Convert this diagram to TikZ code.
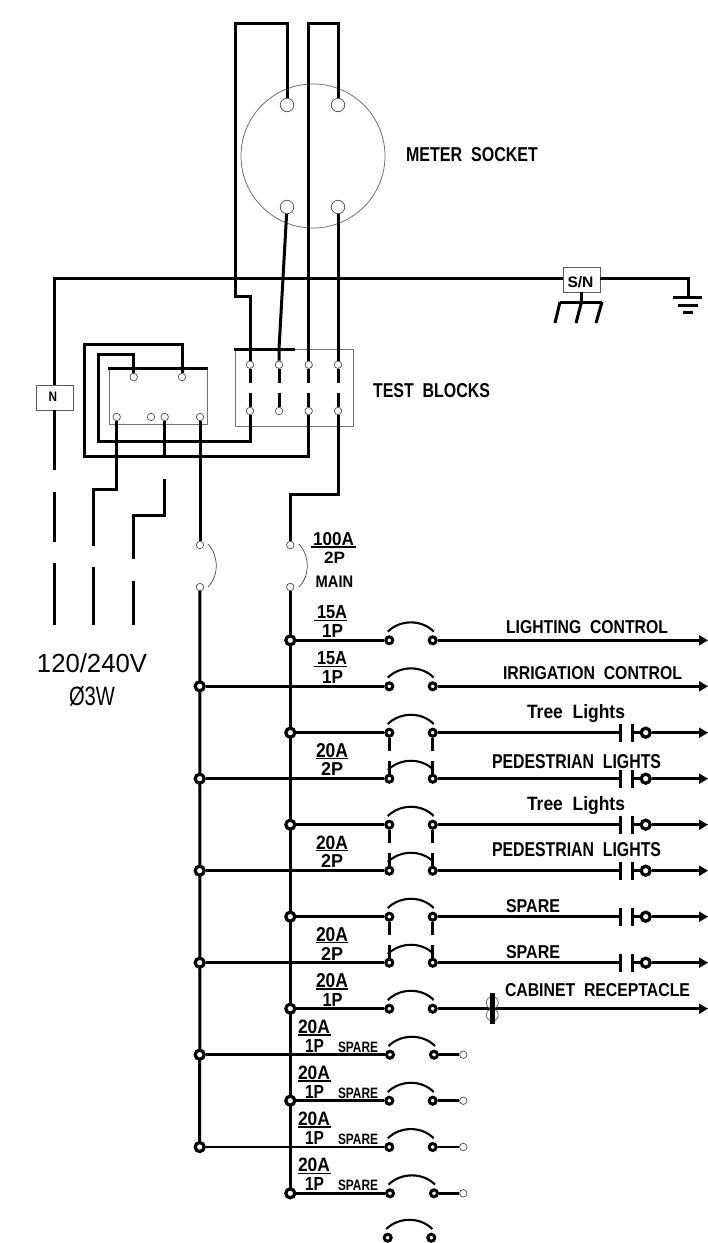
\documentclass[tikz,border=0pt]{standalone}
\usepackage{fontspec}
\setmainfont{Liberation Sans}
\usetikzlibrary{arrows.meta}
\newcommand{\lab}[6]{\node[anchor=base west,inner sep=0pt,outer sep=0pt] (#1) at (#2,#3) {\resizebox{#4pt}{#5pt}{\bfseries #6}};}
\tikzset{
  wire/.style={line width=3pt,line join=miter,line cap=butt,color=black},
  rowwire/.style={line width=2.5pt,line cap=butt,color=black},
  thin box/.style={draw=black!55,line width=0.8pt},
  socketpin/.style={circle,draw=black!70,line width=0.7pt,fill=white,minimum size=13.5pt,inner sep=0pt},
  smallpin/.style={circle,draw=black!70,line width=0.7pt,fill=white,minimum size=7.5pt,inner sep=0pt},
  junc/.style={circle,draw=black,line width=3.2pt,fill=white,minimum size=9pt,inner sep=0pt},
  brk/.style={circle,draw=black,line width=3pt,fill=white,minimum size=7pt,inner sep=0pt},
  trip/.style={line width=2.1pt,color=black},
  labbox/.style={draw=black!65,line width=0.7pt,fill=white,inner sep=0pt},
  ul/.style={line width=1.5pt,color=black},
  thinarc/.style={line width=0.7pt,color=black!70},
  arrowwire/.style={rowwire,-{Triangle[length=9pt,width=10pt]}}
}
\begin{document}
\begin{tikzpicture}[x=1pt,y=-1pt]
\useasboundingbox[fill=white] (0,0) rectangle (708,1243);
% meter socket
\node[circle,thin box,minimum size=144pt,inner sep=0pt] (socket) at (313,156) {};
\node[socketpin] (s1) at (287,105) {};
\node[socketpin] (s2) at (338,105) {};
\node[socketpin] (s3) at (287,207) {};
\node[socketpin] (s4) at (338,207) {};
% test block
\node[thin box,minimum width=117.3pt,minimum height=77pt,inner sep=0pt] (testblk) at (294.4,387.5) {};
\draw[wire] (234,349) -- (295,349);
\foreach \n/\x in {1/250,2/279,3/308.7,4/338}{
  \node[smallpin] (tt\n) at (\x,364.7) {};
  \node[smallpin] (tb\n) at (\x,411) {};
  \coordinate (da\n) at (\x,382.7);
  \coordinate (db\n) at (\x,392.7);
  \draw[wire] (tt\n) -- (da\n);
  \draw[wire] (db\n) -- (tb\n);
}
% left block
\node[thin box,minimum width=98pt,minimum height=56pt,inner sep=0pt] (leftblk) at (158,396) {};
\draw[wire] (108,368.3) -- (208,368.3);
\node[smallpin] (lt1) at (133.7,377) {};
\node[smallpin] (lt2) at (182,377) {};
\node[smallpin] (lb1) at (116.7,417) {};
\node[smallpin] (lb2) at (151,417) {};
\node[smallpin] (lb3) at (164.7,417) {};
\node[smallpin] (lb4) at (200,417) {};
% service wires
\draw[wire] (s1) -- (287,23) -- (235,23) -- (235,296) -- (250,296) -- (tt1);
\draw[wire] (s2) -- (338,23.5) -- (308.7,23.5) -- (tt3);
\draw[wire] (s3) -- (279,349) -- (tt2);
\draw[wire] (s4) -- (tt4);
% neutral
\node[labbox,minimum width=37pt,minimum height=25pt] (nbox) at (54.7,397.5) {};
\node[labbox,minimum width=37pt,minimum height=25pt] (snbox) at (581.5,279.5) {};
\coordinate (gnd) at (688,297);
\coordinate (snl) at (563,278);
\coordinate (snr) at (600,278);
\draw[wire] (nbox) -- (54.7,278) -- (snl);
\draw[wire] (snr) -- (688,278) -- (gnd);
\draw[wire] (673,297.5) -- (702,297.5);
\draw[wire] (678,305) -- (698,305);
\draw[wire] (683,312) -- (693,312);
\coordinate (rod) at (581.5,302);
\draw[wire] (snbox) -- (rod);
\draw[wire] (560,302) -- (602,302);
\draw[wire] (560,302) -- (555,323);
\draw[wire] (rod) -- (576,323);
\draw[wire] (602,302) -- (596,323);
% left-block connections
\draw[wire] (lt2) -- (182,344) -- (84,344) -- (84,456.7) -- (308.7,456.7) -- (tb3);
\draw[wire] (lt1) -- (133.7,354) -- (98.7,354) -- (98.7,441) -- (250,441) -- (tb1);
\coordinate (j3w) at (164.7,456.7);
\draw[wire] (lb3) -- (j3w);
% feeders
\coordinate (n1) at (54.7,470);
\draw[wire] (nbox) -- (n1);
\draw[wire] (54.7,492) -- (54.7,542);
\draw[wire] (54.7,563) -- (54.7,625);
\draw[wire] (lb1) -- (116.7,489) -- (93,489) -- (93,546);
\draw[wire] (93,567) -- (93,625);
\draw[wire] (164.7,479) -- (164.7,515.7) -- (133,515.7) -- (133,558.7);
\draw[wire] (133,580.7) -- (133,625);
% main breaker
\node[smallpin] (mA1) at (200,545) {};
\node[smallpin] (mA2) at (200,587) {};
\node[smallpin] (mB1) at (290.3,545) {};
\node[smallpin] (mB2) at (290.3,587) {};
\draw[wire] (lb4) -- (mA1);
\draw[wire] (tb4) -- (338,494) -- (290.3,494) -- (mB1);
\draw[thinarc] (208,544) .. controls (219,556) and (219,576) .. (208,587);
\draw[thinarc] (299,544) .. controls (310,556) and (310,576) .. (299,587);
% buses
\coordinate (busAend) at (199.7,1147);
\coordinate (busBend) at (290.3,1193.3);
\draw[wire] (mA2) -- (busAend);
\draw[wire] (mB2) -- (busBend);
% rows
\foreach \n/\y/\bx/\lx/\rx in {1/640.3/290.3/389.3/432.7,2/686.3/199.7/389.3/432.7,3/732.7/290.3/389.3/432.7,4/778.7/199.7/389.3/432.7,5/824.7/290.3/389.3/432.7,6/870.7/199.7/389.3/432.7,7/916.7/290.3/389.3/432.7,8/962.7/199.7/389.3/432.7,9/1008.7/290.3/389.3/432.7,10/1054.7/199.7/390/434,11/1100.7/290.3/389.3/432.7,12/1147/199.7/389.3/432.7,13/1193.3/290.3/390/434}{
  \node[junc] (j\n) at (\bx,\y) {};
  \node[brk] (l\n) at (\lx,\y) {};
  \node[brk] (r\n) at (\rx,\y) {};
  \draw[rowwire] (j\n) -- (l\n);
  \draw[trip] (\lx-1.5,\y-8.7) .. controls (\lx+11,\y-21) and (\rx-11,\y-21) .. (\rx+1,\y-8.7);
}
% last unconnected breaker
\node[brk] (l14) at (387.7,1237.7) {};
\node[brk] (r14) at (431.3,1237.7) {};
\draw[trip] (386.2,1229) .. controls (399,1216.7) and (420,1216.7) .. (432.3,1229);
% outgoing plain rows
\foreach \n/\y in {1/640.3,2/686.3}{
  \coordinate (o\n) at (708,\y);
  \draw[arrowwire] (r\n) -- (o\n);
}
% contact rows
\foreach \n/\y in {3/732.7,4/778.7,5/824.7,6/870.7,7/916.7,8/962.7}{
  \node[junc] (k\n) at (645.7,\y) {};
  \coordinate (ca\n) at (620.7,\y);
  \coordinate (cb\n) at (632.7,\y);
  \coordinate (o\n) at (708,\y);
  \draw[rowwire] (r\n) -- (ca\n);
  \draw[rowwire] (620.7,\y-9) -- (620.7,\y+9);
  \draw[rowwire] (632.7,\y-9) -- (632.7,\y+9);
  \draw[rowwire] (cb\n) -- (k\n);
  \draw[arrowwire] (k\n) -- (o\n);
}
% two-pole ties
\foreach \u/\d/\y in {3/4/732.7,5/6/824.7,7/8/916.7}{
  \coordinate (ua\u) at (389.3,\y+18);
  \coordinate (ub\u) at (432.7,\y+18);
  \coordinate (da\u) at (389.3,\y+28);
  \coordinate (db\u) at (432.7,\y+28);
  \draw[rowwire] (l\u) -- (ua\u);
  \draw[rowwire] (r\u) -- (ub\u);
  \draw[rowwire] (da\u) -- (l\d);
  \draw[rowwire] (db\u) -- (r\d);
}
% receptacle row
\coordinate (o9) at (708,1008.7);
\draw[arrowwire] (r9) -- (o9);
\node[circle,thin box,minimum size=12pt,inner sep=0pt] (rc1) at (492.3,1002.7) {};
\node[circle,thin box,minimum size=12pt,inner sep=0pt] (rc2) at (492.3,1015) {};
\draw[line width=5pt] (492.3,993) -- (492.3,1024);
% spare rows
\foreach \n/\y in {10/1054.7,11/1100.7,12/1147,13/1193.3}{
  \node[smallpin] (e\n) at (463.3,\y) {};
  \draw[rowwire] (r\n) -- (e\n);
}
% text
\lab{tMeter}{406}{161}{132}{14}{METER\ \ SOCKET}
\lab{tTest}{373}{397}{117}{14}{TEST\ \ BLOCKS}
\lab{tSN}{567.5}{287}{26}{11}{S/N}
\lab{tN}{48.5}{401}{8.5}{9.5}{N}
\lab{tV}{37}{672}{110}{19}{\mdseries 120/240V}
\lab{tW}{69}{705}{46}{19}{\mdseries Ø3W}
% main label
\lab{t100}{313}{545}{41}{13}{100A}
\draw[ul] (310.7,546.9) -- (356,546.9);
\lab{t2P}{324}{563}{21}{11.5}{2P}
\lab{tMain}{315.7}{587}{37.5}{11.5}{MAIN}
% breaker labels
\lab{a1}{317}{618}{30}{13}{15A}\draw[ul] (314,620.7) -- (347,620.7);\lab{b1}{322}{637}{21}{13}{1P}
\lab{a2}{317}{664}{30}{13}{15A}\draw[ul] (314,666.3) -- (347,666.3);\lab{b2}{322}{683}{21}{13}{1P}
\lab{a3}{316}{757}{32}{14}{20A}\draw[ul] (316,758.5) -- (348,758.5);\lab{b3}{321}{775}{22}{13}{2P}
\lab{a4}{316}{849}{32}{13.5}{20A}\draw[ul] (316,850.7) -- (348,850.7);\lab{b4}{321}{867.5}{22}{13}{2P}
\lab{a5}{316}{941}{32}{14}{20A}\draw[ul] (316,942.7) -- (348,942.7);\lab{b5}{321}{960}{22}{13}{2P}
\lab{a6}{316}{987.5}{32}{14}{20A}\draw[ul] (316,989) -- (348,989);\lab{b6}{322.5}{1006}{20}{13}{1P}
\foreach \n/\d in {7/0,8/46,9/92,10/138.5}{
  \lab{a\n}{298}{1033.3+\d}{32}{13.5}{20A}
  \draw[ul] (297.5,1035+\d) -- (331,1035+\d);
  \lab{b\n}{305}{1052+\d}{19}{13}{1P}
  \lab{sp\n}{338}{1052+\d}{40}{10.5}{SPARE}
}
% circuit labels
\lab{c1}{506}{633}{162}{13}{LIGHTING\ \ CONTROL}
\lab{c2}{503}{679}{179}{13}{IRRIGATION\ \ CONTROL}
\lab{c3}{527}{718}{98}{14}{Tree\ \ Lights}
\lab{c4}{492}{768}{169}{14}{PEDESTRIAN\ \ LIGHTS}
\lab{c5}{527}{810}{98}{14}{Tree\ \ Lights}
\lab{c6}{492}{856}{169}{14}{PEDESTRIAN\ \ LIGHTS}
\lab{c7}{506}{912}{54}{13}{SPARE}
\lab{c8}{506}{958}{54}{13}{SPARE}
\lab{c9}{505}{996}{185}{13}{CABINET\ \ RECEPTACLE}
\end{tikzpicture}
\end{document}
